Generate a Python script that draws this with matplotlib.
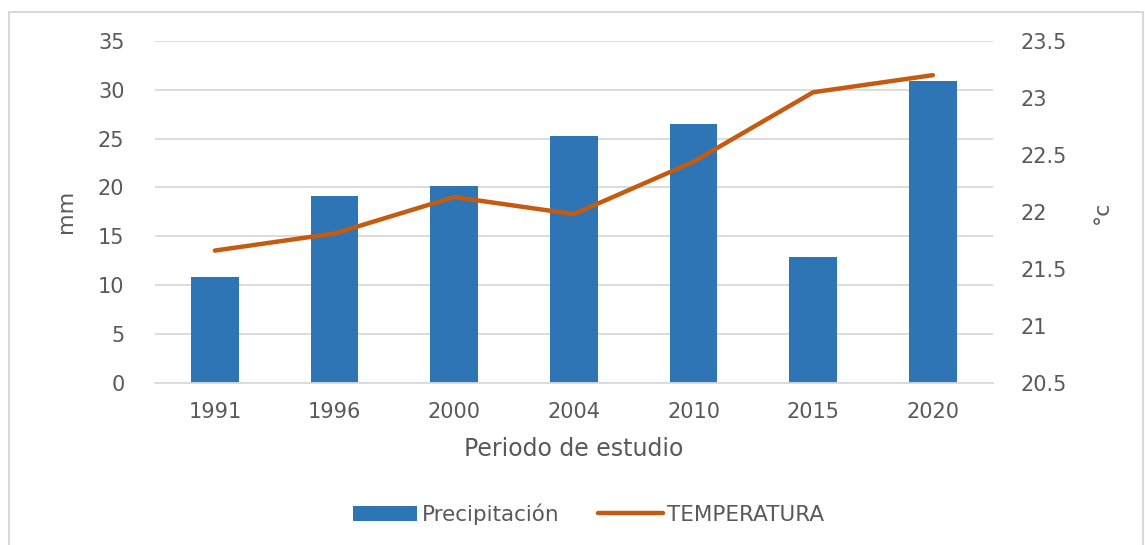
import matplotlib
matplotlib.use("Agg")
from matplotlib import pyplot as plt
from matplotlib.patches import Rectangle

# datos
periodos = ["1991", "1996", "2000", "2004", "2010", "2015", "2020"]
precipitacion = [10.8, 19.1, 20.1, 25.3, 26.5, 12.9, 30.9]
temperatura = [21.66, 21.81, 22.13, 21.98, 22.44, 23.05, 23.20]

azul = "#2E75B6"
naranja = "#C55A11"
gris_txt = "#595959"
gris_linea = "#D9D9D9"

plt.rcParams["font.family"] = ["DejaVu Sans"]

fig = plt.figure(figsize=(11.45, 5.45), dpi=100)
ax = fig.add_axes([0.1354, 0.2978, 0.7316, 0.627])

xs = list(range(len(periodos)))
barras = ax.bar(xs, precipitacion, 0.4, color=azul, label="Precipitación", zorder=2)
ax.set_ylim(0, 35)
ax.set_xlim(-0.5, len(periodos) - 0.5)
ax.set_yticks(range(0, 36, 5))
ax.set_xticks(xs)
ax.set_xticklabels(periodos)
ax.grid(axis="y", color=gris_linea, linewidth=1.3, zorder=0)
ax.set_axisbelow(True)
for s in ["top", "right", "left"]:
    ax.spines[s].set_visible(False)
ax.spines["bottom"].set_color(gris_linea)
ax.spines["bottom"].set_linewidth(1.3)
ax.tick_params(length=0, labelsize=15, colors=gris_txt)
ax.tick_params(axis="y", pad=22)
ax.tick_params(axis="x", pad=14)
ax.set_ylabel("mm", fontsize=16, color=gris_txt, labelpad=16)
ax.set_xlabel("Periodo de estudio", fontsize=17, color=gris_txt, labelpad=11)

ax2 = ax.twinx()
linea, = ax2.plot(xs, temperatura, color=naranja, linewidth=3.2,
                  solid_capstyle="round", solid_joinstyle="round",
                  label="TEMPERATURA", zorder=3)
ax2.set_ylim(20.5, 23.5)
ax2.set_yticks([20.5, 21, 21.5, 22, 22.5, 23, 23.5])
ax2.set_yticklabels(["20.5", "21", "21.5", "22", "22.5", "23", "23.5"])
for s in ax2.spines.values():
    s.set_visible(False)
ax2.tick_params(length=0, labelsize=15, colors=gris_txt, pad=20)
ax2.set_ylabel("°c", fontsize=16, color=gris_txt, rotation=90, labelpad=18)

fig.legend([barras, linea], ["Precipitación", "TEMPERATURA"],
           loc="center", bbox_to_anchor=(0.514, 0.057), ncol=2, frameon=False,
           fontsize=15.5, labelcolor=gris_txt, handlelength=3.0,
           handletextpad=0.2, columnspacing=1.8)

# marco del grafico
fig.patches.append(Rectangle((0.008, -0.01), 0.99, 0.988, transform=fig.transFigure,
                             fill=False, edgecolor=gris_linea, linewidth=1.5))

fig.savefig("out.png", dpi=100)
